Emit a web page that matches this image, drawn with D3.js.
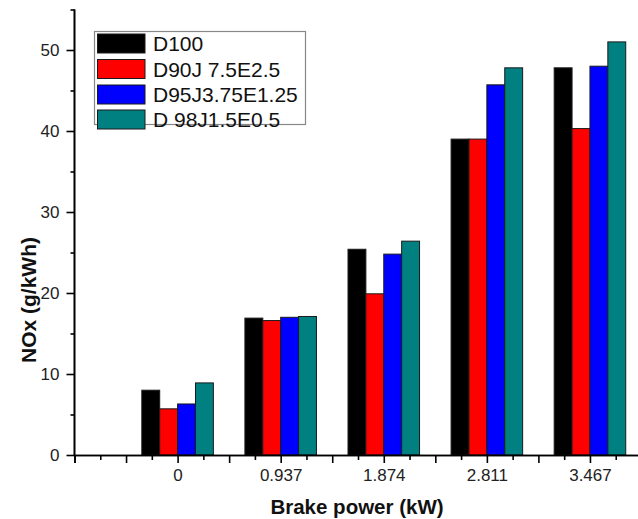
<!DOCTYPE html>
<html>
<head>
<meta charset="utf-8">
<script src="https://cdn.jsdelivr.net/npm/d3@7"></script>
<style>
  html, body { margin: 0; padding: 0; background: #fff; }
  svg { display: block; font-family: Arial, "Liberation Sans", sans-serif; }
</style>
</head>
<body>
<svg id="chart" width="638" height="519"></svg>
<script>
// ---- data ----
const categories = ["0", "0.937", "1.874", "2.811", "3.467"];
const seriesNames = ["D100", "D90J 7.5E2.5", "D95J3.75E1.25", "D 98J1.5E0.5"];
const d100 = [8.0, 16.9, 25.4, 39.0, 47.8];
const d90j = [5.7, 16.6, 19.9, 39.0, 40.3];
const d95j = [6.3, 17.0, 24.8, 45.7, 48.0];
const d98j = [8.9, 17.1, 26.4, 47.8, 51.0];
const seriesColors = ["#000000", "#ff0000", "#0000ff", "#008080"];
const yTickValues = [0, 10, 20, 30, 40, 50];
const xTitle = "Brake power (kW)";
const yTitle = "NOx (g/kWh)";

const seriesValues = [d100, d90j, d95j, d98j];

const svg = d3.select("#chart");

// scales: categories sit at integer positions 0..4; axis runs from -1 to 4.5
const x = d3.scaleLinear().domain([-1, 4.5]).range([74.5, 641.5]);
const y = d3.scaleLinear().domain([0, 55]).range([455, 9.5]);

const spacing = x(1) - x(0);
const barW = spacing * 0.1735;

// bars
const g = svg.append("g");
seriesValues.forEach((vals, j) => {
  g.selectAll(null)
    .data(vals)
    .enter()
    .append("rect")
    .attr("x", (d, i) => x(i) + (j - 2) * barW)
    .attr("y", d => y(d))
    .attr("width", barW)
    .attr("height", d => y(0) - y(d))
    .attr("fill", seriesColors[j])
    .attr("stroke", "#1a1a1a")
    .attr("stroke-width", 1);
});

// x axis: long ticks every 0.5, short ticks every 0.25
const xMajor = d3.range(-1, 4.51, 0.5);
const xMinor = d3.range(-0.75, 4.5, 0.5);
const xAxisMajor = d3.axisBottom(x).tickValues(xMajor).tickSize(8)
  .tickFormat(d => (Number.isInteger(d) && d >= 0) ? categories[d] : "");
const xAxisMinor = d3.axisBottom(x).tickValues(xMinor).tickSize(5).tickFormat("");

const gxMinor = svg.append("g").attr("transform", `translate(0,${y(0)})`).call(xAxisMinor);
const gx = svg.append("g").attr("transform", `translate(0,${y(0)})`).call(xAxisMajor);
[gx, gxMinor].forEach(a => {
  a.select(".domain").attr("stroke", "#000").attr("stroke-width", 1.6);
  a.selectAll(".tick line").attr("stroke", "#000").attr("stroke-width", 1.6);
});
gx.selectAll(".tick text").attr("font-size", 17).attr("fill", "#222").attr("dy", "0.9em")
  .attr("font-family", "Arial, 'Liberation Sans', sans-serif");

// y axis: major every 10, minor every 5
const yAxisMajor = d3.axisLeft(y).tickValues(yTickValues).tickSize(8).tickFormat(d3.format("d"));
const yAxisMinor = d3.axisLeft(y).tickValues([5, 15, 25, 35, 45, 55]).tickSize(4).tickFormat("");
const gyMinor = svg.append("g").attr("transform", `translate(${x(-1)},0)`).call(yAxisMinor);
const gy = svg.append("g").attr("transform", `translate(${x(-1)},0)`).call(yAxisMajor);
[gy, gyMinor].forEach(a => {
  a.select(".domain").attr("stroke", "#000").attr("stroke-width", 1.6)
    .attr("d", `M-0.0,${y(55)}V${y(0)}`);
  a.selectAll(".tick line").attr("stroke", "#000").attr("stroke-width", 1.6);
});
gy.selectAll(".tick text").attr("font-size", 17).attr("fill", "#222").attr("x", -15)
  .attr("font-family", "Arial, 'Liberation Sans', sans-serif");

// axis titles
svg.append("text")
  .attr("x", 357).attr("y", 514)
  .attr("text-anchor", "middle")
  .attr("font-size", 20.5).attr("font-weight", "bold").attr("fill", "#111")
  .text(xTitle);

svg.append("text")
  .attr("transform", "translate(36,300) rotate(-90)")
  .attr("text-anchor", "middle")
  .attr("font-size", 21).attr("font-weight", "bold").attr("fill", "#111")
  .text(yTitle);

// legend
const lg = svg.append("g");
lg.append("rect")
  .attr("x", 94.5).attr("y", 31.5).attr("width", 211).attr("height", 93)
  .attr("fill", "#fff").attr("stroke", "#888").attr("stroke-width", 1.2);
const rowY = [43.5, 69, 94.5, 119.5];
seriesNames.forEach((name, j) => {
  lg.append("rect")
    .attr("x", 97.5).attr("y", rowY[j] - 9.5).attr("width", 47.5).attr("height", 19)
    .attr("fill", seriesColors[j]).attr("stroke", "#1a1a1a").attr("stroke-width", 1);
  lg.append("text")
    .attr("x", 153).attr("y", rowY[j] + 7.5)
    .attr("font-size", 21).attr("fill", "#111")
    .text(name);
});
</script>
</body>
</html>
